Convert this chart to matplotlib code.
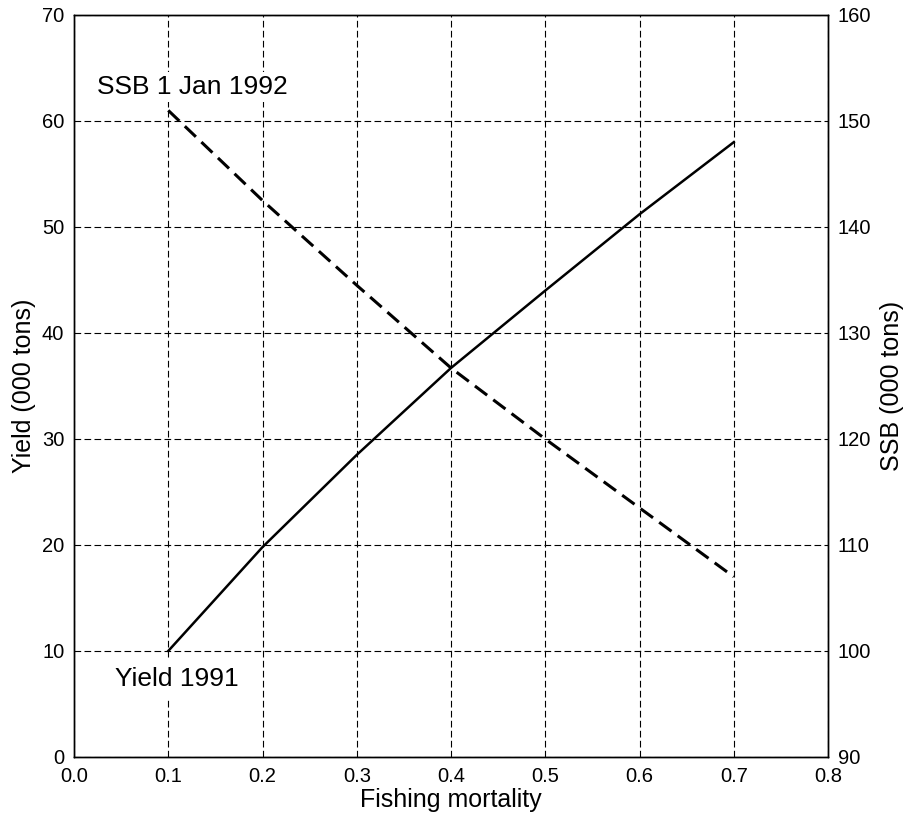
import matplotlib.pyplot as plt

plt.rcParams['font.family'] = ['Liberation Sans', 'DejaVu Sans']

# Fishing mortality (F) against yield and spawning stock biomass
f_values = [0.1, 0.2, 0.3, 0.4, 0.5, 0.6, 0.7]
yield_1991 = [10.0, 19.8, 28.5, 36.7, 44.0, 51.2, 58.0]
ssb_1992 = [151.0, 142.5, 134.5, 126.7, 120.0, 113.5, 107.0]

x_ticks = [0.0, 0.1, 0.2, 0.3, 0.4, 0.5, 0.6, 0.7, 0.8]
yield_ticks = [0, 10, 20, 30, 40, 50, 60, 70]
ssb_ticks = [90, 100, 110, 120, 130, 140, 150, 160]

fig = plt.figure(figsize=(9.07, 8.15), dpi=100)
ax = fig.add_axes([0.0816, 0.0712, 0.8313, 0.9104])
ax2 = ax.twinx()

ax.set_xlim(0.0, 0.8)
ax.set_ylim(0, 70)
ax2.set_ylim(90, 160)

ax.set_xticks(x_ticks)
ax.set_xticklabels([f"{v:.1f}" for v in x_ticks])
ax.set_yticks(yield_ticks)
ax2.set_yticks(ssb_ticks)

ax.grid(True, color='black', linestyle=(0, (6, 3)), linewidth=0.8)
ax.tick_params(length=0, labelsize=14.5, pad=7)
ax2.tick_params(length=0, labelsize=14.5, pad=7)

for a in (ax, ax2):
    for s in a.spines.values():
        s.set_linewidth(1.0)

ax.plot(f_values, yield_1991, color='black', linewidth=1.8, zorder=3)
ax2.plot(f_values, ssb_1992, color='black', linewidth=2.2,
         linestyle=(0, (5, 2.5)), zorder=3)

ax.text(0.024, 63.2, "SSB 1 Jan 1992", fontsize=19, va='center', ha='left',
        bbox=dict(facecolor='white', edgecolor='none', pad=2), zorder=4)
ax.text(0.043, 7.4, "Yield 1991", fontsize=19, va='center', ha='left',
        bbox=dict(facecolor='white', edgecolor='none', pad=6), zorder=4)

ax.set_xlabel("Fishing mortality", fontsize=18, labelpad=2)
ax.set_ylabel("Yield (000 tons)", fontsize=18, labelpad=4)
ax2.set_ylabel("SSB (000 tons)", fontsize=18, labelpad=6)

plt.savefig("out.png", dpi=100)
